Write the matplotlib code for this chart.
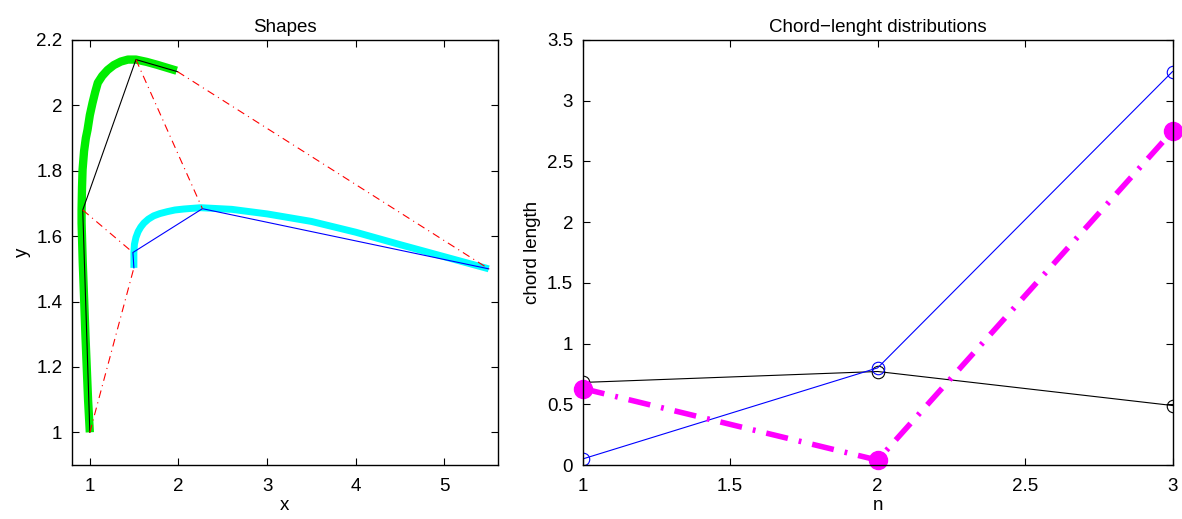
import matplotlib.pyplot as plt

plt.rcParams['font.family'] = ['Liberation Sans', 'DejaVu Sans']

# left panel: smooth shapes
green_x = [1.0, 0.98, 0.965, 0.95, 0.936, 0.92, 0.907, 0.907, 0.912, 0.918, 0.935, 0.955, 0.974,
           1.0, 1.03, 1.06, 1.09, 1.14, 1.2, 1.27, 1.35, 1.43, 1.52, 1.64, 1.76, 1.87, 1.98]
green_y = [1.0, 1.1, 1.2, 1.3, 1.406, 1.52, 1.64, 1.68, 1.75, 1.803, 1.86, 1.9, 1.925,
           1.97, 2.007, 2.04, 2.069, 2.09, 2.108, 2.123, 2.134, 2.14, 2.14, 2.133, 2.124, 2.115, 2.106]
cyan_x = [1.497, 1.497, 1.503, 1.52, 1.545, 1.575, 1.61, 1.66, 1.72, 1.79, 1.875, 1.96, 2.06,
          2.25, 2.6, 3.0, 3.5, 4.0, 4.5, 5.0, 5.5]
cyan_y = [1.503, 1.55, 1.575, 1.596, 1.614, 1.628, 1.64, 1.652, 1.662, 1.669, 1.675, 1.68, 1.683,
          1.687, 1.682, 1.668, 1.645, 1.612, 1.574, 1.537, 1.5]

# polygon approximations (chord points)
black_x = [1.0, 0.92, 1.52, 1.99]
black_y = [1.0, 1.68, 2.14, 2.103]
blue_x = [1.497, 1.486, 2.27, 5.5]
blue_y = [1.503, 1.55, 1.684, 1.5]

# right panel: chord-length distributions
n = [1, 2, 3]
chord_black = [0.68, 0.77, 0.49]
chord_blue = [0.05, 0.80, 3.24]
chord_magenta = [0.63, 0.04, 2.75]

fig = plt.figure(figsize=(11.82, 5.19), dpi=100)
ax1 = fig.add_axes([0.061, 0.104, 0.36, 0.819])
ax2 = fig.add_axes([0.493, 0.104, 0.499, 0.819])

ax1.plot(green_x, green_y, color='#00ee00', lw=6, solid_capstyle='butt', solid_joinstyle='round')
ax1.plot(cyan_x, cyan_y, color='cyan', lw=5, solid_capstyle='butt', solid_joinstyle='round')
ax1.plot(black_x, black_y, color='black', lw=0.8)
ax1.plot(blue_x, blue_y, color='blue', lw=0.8)
for i in range(len(black_x)):
    ax1.plot([black_x[i], blue_x[i]], [black_y[i], blue_y[i]], color='red', lw=0.8,
             dashes=[7, 4, 1, 4])
ax1.set_xlim(0.8, 5.6)
ax1.set_ylim(0.9, 2.2)
ax1.set_xticks([1, 2, 3, 4, 5])
ax1.set_yticks([1, 1.2, 1.4, 1.6, 1.8, 2, 2.2])
ax1.set_yticklabels(['1', '1.2', '1.4', '1.6', '1.8', '2', '2.2'])
ax1.set_title('Shapes', fontsize=13.5)
ax1.set_xlabel('x', fontsize=13.5, labelpad=2)
ax1.set_ylabel('y', fontsize=13.5)

ax2.plot(n, chord_black, color='black', lw=0.8, marker='o', mfc='none', ms=9, mew=0.8)
ax2.plot(n, chord_blue, color='blue', lw=0.8, marker='o', mfc='none', ms=9, mew=0.8)
ax2.plot(n, chord_magenta, color='magenta', lw=4, marker='o', ms=13,
         dashes=[4, 2, 0.5, 2], clip_on=False)
ax2.set_xlim(1, 3)
ax2.set_ylim(0, 3.5)
ax2.set_xticks([1, 1.5, 2, 2.5, 3])
ax2.set_xticklabels(['1', '1.5', '2', '2.5', '3'])
ax2.set_yticks([0, 0.5, 1, 1.5, 2, 2.5, 3, 3.5])
ax2.set_yticklabels(['0', '0.5', '1', '1.5', '2', '2.5', '3', '3.5'])
ax2.set_title('Chord\u2212lenght distributions', fontsize=13.5)
ax2.set_xlabel('n', fontsize=13.5, labelpad=2)
ax2.set_ylabel('chord length', fontsize=13.5)

for ax in (ax1, ax2):
    ax.tick_params(direction='in', top=True, right=True, length=5, width=0.8,
                   labelsize=13.5)
    ax.tick_params(axis='x', pad=9)
    ax.tick_params(axis='y', pad=7)
    for s in ax.spines.values():
        s.set_linewidth(1.0)

fig.savefig('out.png', dpi=100)
